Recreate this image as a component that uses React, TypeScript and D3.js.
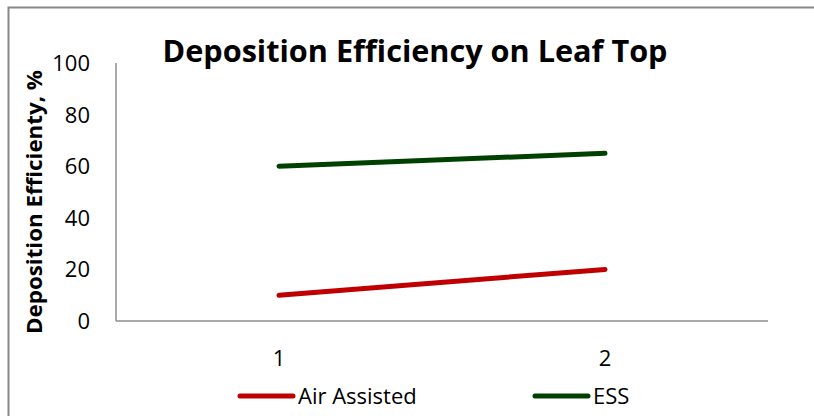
import React from "react";
import * as d3 from "d3";

const categories = ["1", "2"];
const airAssisted = [10, 20];
const ess = [60, 65];
const yTicks = [0, 20, 40, 60, 80, 100];
const seriesNames = ["Air Assisted", "ESS"];
const seriesColors = ["#c00000", "#004000"];

export default function App() {
  const W = 814, H = 416;
  const left = 116, right = 768, top = 63, bottom = 321;
  const x = d3.scaleBand<string>().domain(categories).range([left, right]);
  const y = d3.scaleLinear().domain([0, 100]).range([bottom, top]);
  const line = d3.line<number>()
    .x((_, i) => (x(categories[i]) as number) + x.bandwidth() / 2)
    .y((d) => y(d));
  const series = [airAssisted, ess];
  const font = "'Open Sans', sans-serif";
  const legendX = [240, 535];
  return (
    <svg width={W} height={H} style={{ position: "absolute", left: 0, top: 0 }} fontFamily={font}>
      <rect x={0} y={0} width={W} height={H} fill="#fff" />
      <path d={`M8.5,${H + 5} V7.5 H${W + 5}`} fill="none" stroke="#888" strokeWidth={2} />
      <text x={415} y={62} textAnchor="middle" fontSize={31} fontWeight="bold" textLength={505} lengthAdjust="spacingAndGlyphs">
        Deposition Efficiency on Leaf Top
      </text>
      <text transform={`translate(42,202) rotate(-90)`} textAnchor="middle" fontSize={22} fontWeight="bold" textLength={264} lengthAdjust="spacingAndGlyphs">
        Deposition Efficienty, %
      </text>
      {yTicks.map((t) => (
        <text key={t} x={90} y={y(t)} dy="0.36em" textAnchor="end" fontSize={22}>{t}</text>
      ))}
      <line x1={left} x2={left} y1={top} y2={bottom} stroke="#8c8c8c" strokeWidth={1.5} />
      <line x1={left} x2={right} y1={bottom} y2={bottom} stroke="#8c8c8c" strokeWidth={1.5} />
      {categories.map((c) => (
        <text key={c} x={(x(c) as number) + x.bandwidth() / 2} y={358} dy="0.36em" textAnchor="middle" fontSize={22}>{c}</text>
      ))}
      {series.map((s, i) => (
        <path key={i} d={line(s) || ""} fill="none" stroke={seriesColors[i]} strokeWidth={5} strokeLinecap="round" />
      ))}
      {seriesNames.map((n, i) => (
        <g key={n}>
          <line x1={legendX[i]} x2={legendX[i] + 53} y1={396} y2={396} stroke={seriesColors[i]} strokeWidth={5} strokeLinecap="round" />
          <text x={legendX[i] + 58} y={396} dy="0.36em" fontSize={22}>{n}</text>
        </g>
      ))}
    </svg>
  );
}
